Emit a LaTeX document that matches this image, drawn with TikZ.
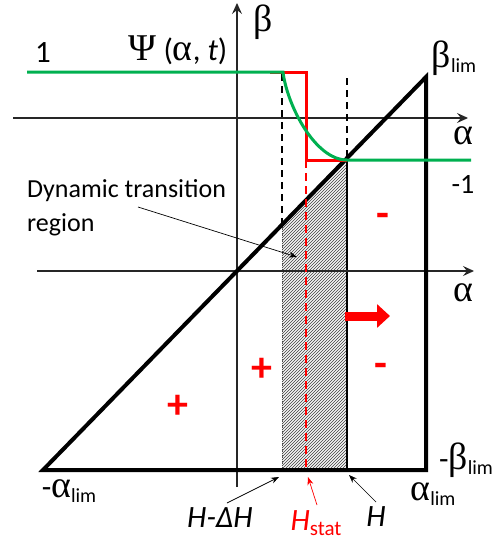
\documentclass[tikz,border=0pt]{standalone}
\usepackage{fontspec}
\setmainfont{Carlito}
\newfontfamily\grk[Scale=1.22]{Liberation Serif}
\usetikzlibrary{positioning, arrows.meta, patterns}
\definecolor{curve_green}{RGB}{0,176,80}
\newcommand{\sublim}{\raisebox{-5pt}{\fontsize{20}{20}\selectfont lim}}
\tikzset{
    axis_line/.style={line width=1.2pt, black!85, -{Stealth[length=11pt, width=10pt, inset=4pt]}},
    tri_edge/.style={line width=4pt, black},
    dash_guide/.style={line width=1.6pt, black, dash pattern=on 7pt off 5pt},
    red_step/.style={line width=3pt, red},
    red_dash/.style={line width=2pt, red, dash pattern=on 8pt off 5pt},
    green_curve/.style={line width=3pt, curve_green},
    ptr_arrow/.style={-{Stealth[length=8pt, width=6pt]}, line width=0.7pt},
    lbl_text/.style={inner sep=0pt, font=\fontsize{28}{30}\selectfont},
    lbl_big/.style={inner sep=0pt, font=\fontsize{31}{34}\selectfont},
    sign_mark/.style={inner sep=0pt, text=red, font=\bfseries\fontsize{42}{42}\selectfont}
}

\begin{document}
\begin{tikzpicture}[x=1pt, y=-1pt]
        \useasboundingbox (0,0) rectangle (501,544);
        % limiting triangle
        \coordinate (a_lo) at (43,470);
        \coordinate (b_hi) at (426,77);
        \coordinate (a_hi) at (426,470);
        % transition band
        \coordinate (band_tl) at (282,225);
        \coordinate (band_tr) at (347,160);
        \coordinate (band_br) at (347,470);
        \coordinate (band_bl) at (282,470);
        \fill[black!4] (band_tl) -- (band_tr) -- (band_br) -- (band_bl) -- cycle;
        \fill[pattern=north east lines, pattern color=black!75] (band_tl) -- (band_tr) -- (band_br) -- (band_bl) -- cycle;
        \draw[line width=1pt, black!70, densely dotted] (band_tl) -- (band_bl);
        \draw[line width=1.6pt] (band_tr) -- (band_br);
        % axes
        \coordinate (beta_lo) at (237,487);
        \coordinate (beta_hi) at (237,3);
        \coordinate (up_l) at (13,118);
        \coordinate (up_r) at (468,118);
        \coordinate (lo_l) at (37,271);
        \coordinate (lo_r) at (474,271);
        \draw[axis_line] (beta_lo) -- (beta_hi);
        \draw[axis_line] (up_l) -- (up_r);
        \draw[axis_line] (lo_l) -- (lo_r);
        \draw[tri_edge] (a_lo) -- (b_hi) -- (a_hi) -- cycle;
        % guides
        \coordinate (dl_top) at (282,74);
        \coordinate (dr_top) at (347,78);
        \draw[dash_guide] (dl_top) -- (band_tl);
        \draw[dash_guide] (dr_top) -- (band_tr);
        % static switching step
        \coordinate (st_a) at (270,72);
        \coordinate (st_b) at (306,72);
        \coordinate (st_c) at (306,160);
        \coordinate (st_d) at (306,470);
        \draw[red_step] (st_a) -- (st_b) -- (st_c) -- (band_tr);
        \draw[red_dash] (st_c) -- (st_d);
        % dynamic curve
        \coordinate (gr_l) at (27,72);
        \coordinate (gr_k) at (283,72);
        \coordinate (gr_r) at (471,160);
        \draw[green_curve] (gr_l) -- (gr_k) .. controls (287,105) and (315,160) .. (band_tr) -- (gr_r);
        % motion of H
        \coordinate (push_s) at (345,316);
        \coordinate (push_e) at (390,316);
        \draw[red, line width=9pt, -{Triangle[length=13pt, width=23pt]}] (push_s) -- (push_e);
        % labels
        \node[lbl_big] (one) at (43,53) {1};
        \node[lbl_big] (psi) at (178,50) {{\grk Ψ} ({\grk α}, \textit{t})};
        \node[lbl_big] (beta_lbl) at (263,22) {\grk β};
        \node[lbl_big] (blim) at (454,58) {{\grk β}\sublim};
        \node[lbl_big] (alpha_up) at (463,136) {\grk α};
        \node[lbl_text] (minus_one) at (463,184) {-1};
        \node[lbl_big] (alpha_lo) at (463,293) {\grk α};
        \node[lbl_big] (nblim) at (466,460) {-{\grk β}\sublim};
        \node[lbl_big] (nalim) at (69,491) {-{\grk α}\sublim};
        \node[lbl_big] (alim) at (433,494) {{\grk α}\sublim};
        \node[lbl_text, anchor=north west, align=left, font=\fontsize{26}{34}\selectfont] (dyn_txt) at (27,179) {Dynamic transition\\region};
        \node[sign_mark] (s1) at (383,220) {-};
        \node[sign_mark] (s2) at (381,370) {-};
        \node[sign_mark] (s3) at (262,370) {+};
        \node[sign_mark] (s4) at (178,407) {+};
        \node[lbl_big] (h_dh) at (220,518) {\textit{H-ΔH}};
        \node[lbl_big, text=red] (h_st) at (316,523) {\textit{H}\raisebox{-5pt}{\fontsize{21}{21}\selectfont stat}};
        \node[lbl_big] (h_now) at (376,517) {\textit{H}};
        % pointers
        \coordinate (dyn_from) at (138,207);
        \coordinate (dyn_to) at (297,257);
        \draw[ptr_arrow] (dyn_from) -- (dyn_to);
        \coordinate (p1_s) at (227,503);
        \coordinate (p1_e) at (279,477);
        \draw[ptr_arrow] (p1_s) -- (p1_e);
        \coordinate (p2_s) at (317,505);
        \coordinate (p2_e) at (308,477);
        \draw[ptr_arrow, red] (p2_s) -- (p2_e);
        \coordinate (p3_s) at (376,502);
        \coordinate (p3_e) at (349,475);
        \draw[ptr_arrow] (p3_s) -- (p3_e);
\end{tikzpicture}
\end{document}
